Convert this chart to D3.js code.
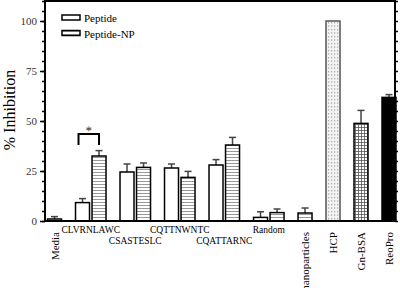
<html>
<head>
<style>
  body { margin: 0; padding: 0; background: white; }
  svg { display: block; }
  text { font-family: "Liberation Serif", "DejaVu Serif", serif; }
</style>
<script src="https://cdn.jsdelivr.net/npm/d3@7"></script>
</head>
<body>
<svg width="400" height="288"></svg>
<script>
// groups along the x axis
const categories = ["Media", "CLVRNLAWC", "CSASTESLC", "CQTTNWNTC", "CQATTARNC", "Random", "nanoparticles", "HCP", "Gn-BSA", "ReoPro"];
// free peptide (null = no bar)
const peptide    = [1.0, 9.2, 24.5, 26.5, 28.0, 1.8, null, null, null, null];
const peptideErr = [1.2, 2.0, 4.0, 2.0, 2.7, 2.8, null, null, null, null];
// peptide on nanoparticles
const peptideNP    = [null, 32.5, 26.8, 21.8, 38.0, 4.2, 4.0, null, null, null];
const peptideNPErr = [null, 2.7, 2.2, 3.0, 3.8, 1.8, 2.5, null, null, null];
// controls
const controls    = [null, null, null, null, null, null, null, 100, 48.8, 61.8];
const controlsErr = [null, null, null, null, null, null, null, 0, 6.5, 1.4];
const yTicks = [0, 25, 50, 75, 100];
const legendLabels = ["Peptide", "Peptide-NP"];
// significance between CLVRNLAWC peptide and peptide-NP
const sigTop = 43.5, sigFoot = 38;

const svg = d3.select("svg");
const m = { left: 45, right: 395, top: 1, bottom: 221 };

const y = d3.scaleLinear().domain([0, 110]).range([m.bottom, m.top]);

// patterns
const defs = svg.append("defs");
let p = defs.append("pattern").attr("id", "stripes").attr("patternUnits", "userSpaceOnUse")
  .attr("width", 4).attr("height", 3);
p.append("rect").attr("width", 4).attr("height", 3).attr("fill", "white");
p.append("line").attr("x1", 0).attr("x2", 4).attr("y1", 1.5).attr("y2", 1.5)
  .attr("stroke", "#999").attr("stroke-width", 1);

p = defs.append("pattern").attr("id", "dots").attr("patternUnits", "userSpaceOnUse")
  .attr("width", 3).attr("height", 3.5);
p.append("rect").attr("width", 3).attr("height", 3.5).attr("fill", "#f4f4f4");
p.append("rect").attr("x", 1).attr("y", 1).attr("width", 1.2).attr("height", 1.2).attr("fill", "#999");

p = defs.append("pattern").attr("id", "grid").attr("patternUnits", "userSpaceOnUse")
  .attr("width", 3).attr("height", 3);
p.append("rect").attr("width", 3).attr("height", 3).attr("fill", "white");
p.append("path").attr("d", "M0,1.5H3M1.5,0V3").attr("stroke", "#555").attr("stroke-width", 0.8);

// build bar list
let bars = [];
categories.forEach((c, i) => {
  if (peptide[i] != null) bars.push({ g: i, kind: "pep", v: peptide[i], e: peptideErr[i] });
  if (peptideNP[i] != null) bars.push({ g: i, kind: "np", v: peptideNP[i], e: peptideNPErr[i] });
  if (controls[i] != null) bars.push({ g: i, kind: c, v: controls[i], e: controlsErr[i] });
});

// layout in bar-width units: pad, bar, inner gap, group gap
const pad = 0.18, innerGap = 0.18, groupGap = 1;
let u = pad, prevG = null;
bars.forEach(b => {
  if (prevG !== null) u += (b.g === prevG) ? innerGap : groupGap;
  b.u0 = u; u += 1; b.u1 = u;
  prevG = b.g;
});
const x = d3.scaleLinear().domain([0, u]).range([m.left, m.right + 1]);

const fills = { pep: "white", np: "url(#stripes)", "HCP": "url(#dots)", "Gn-BSA": "url(#grid)", "ReoPro": "black" };

// error bars (upward only)
const eb = svg.append("g").attr("stroke", "#444").attr("stroke-width", 1.5);
bars.filter(b => b.e > 0).forEach(b => {
  const cx = (x(b.u0) + x(b.u1)) / 2;
  eb.append("line").attr("x1", cx).attr("x2", cx).attr("y1", y(b.v)).attr("y2", y(b.v + b.e));
  eb.append("line").attr("x1", cx - 3.5).attr("x2", cx + 3.5).attr("y1", y(b.v + b.e)).attr("y2", y(b.v + b.e));
});

svg.append("g").selectAll("rect").data(bars).join("rect")
  .attr("x", d => x(d.u0))
  .attr("width", d => x(d.u1) - x(d.u0))
  .attr("y", d => y(d.v))
  .attr("height", d => y(0) - y(d.v))
  .attr("fill", d => fills[d.kind])
  .attr("stroke", d => d.kind === "HCP" ? "#555" : "black")
  .attr("stroke-width", 1.5);

// axes
const axL = svg.append("g").attr("transform", `translate(${m.left},0)`)
  .call(d3.axisLeft(y).tickValues(yTicks).tickSize(5).tickPadding(3));
axL.select(".domain").remove();
axL.selectAll("line").attr("stroke-width", 1.5);
axL.selectAll("text").attr("font-size", 11).attr("font-family", "Liberation Serif").attr("fill", "#333");

const axM = svg.append("g").attr("transform", `translate(${m.left},0)`)
  .call(d3.axisLeft(y).tickValues(d3.range(0, 111, 5)).tickSize(3).tickFormat(""));
axM.select(".domain").remove();
axM.selectAll("line").attr("stroke-width", 1.5);

const axR = svg.append("g").attr("transform", `translate(${m.right},0)`)
  .call(d3.axisRight(y).tickValues(d3.range(0, 111, 5)).tickSize(3).tickFormat(""));
axR.select(".domain").remove();
axR.selectAll("line").attr("stroke-width", 1.5);

// frame
svg.append("rect").attr("x", m.left).attr("y", m.top).attr("width", m.right - m.left).attr("height", m.bottom - m.top)
  .attr("fill", "none").attr("stroke", "black").attr("stroke-width", 2);

// category labels
const groupCenter = i => {
  const bs = bars.filter(b => b.g === i);
  return (x(bs[0].u0) + x(bs[bs.length - 1].u1)) / 2;
};
let pairIdx = 0;
categories.forEach((c, i) => {
  const n = bars.filter(b => b.g === i).length;
  const cx = groupCenter(i);
  if (n === 1) {
    svg.append("text").attr("transform", `translate(${cx + 4},${m.bottom + 11}) rotate(-90)`)
      .attr("text-anchor", "end").attr("font-size", 11).text(c);
  } else {
    svg.append("text").attr("x", cx).attr("y", m.bottom + 12 + (pairIdx % 2) * 11)
      .attr("text-anchor", "middle").attr("font-size", 9.5).text(c);
    pairIdx++;
  }
});

// y label
svg.append("text").attr("transform", `translate(15,110) rotate(-90)`)
  .attr("text-anchor", "middle").attr("font-size", 16).text("% Inhibition");

// significance bracket
const b1 = bars.find(b => b.g === 1 && b.kind === "pep");
const b2 = bars.find(b => b.g === 1 && b.kind === "np");
const sx1 = x(b1.u0) + 3, sx2 = (x(b2.u0) + x(b2.u1)) / 2;
svg.append("path")
  .attr("d", `M${sx1},${y(sigFoot)}V${y(sigTop)}H${sx2}V${y(sigFoot)}`)
  .attr("fill", "none").attr("stroke", "black").attr("stroke-width", 2);
svg.append("text").attr("x", (sx1 + sx2) / 2).attr("y", y(sigTop) + 1)
  .attr("text-anchor", "middle").attr("font-size", 13).attr("fill", "#333")
  .style("text-rendering", "geometricPrecision").text("*");

// legend
const leg = svg.append("g").attr("transform", "translate(62,15)");
legendLabels.forEach((l, i) => {
  leg.append("rect").attr("x", 0).attr("y", i * 15.5).attr("width", 18).attr("height", 5)
    .attr("fill", i === 0 ? "white" : "url(#stripes)").attr("stroke", "black").attr("stroke-width", 1.5);
  leg.append("text").attr("x", 22).attr("y", i * 15.5 + 7).attr("font-size", 11).text(l);
});
</script>
</body>
</html>
